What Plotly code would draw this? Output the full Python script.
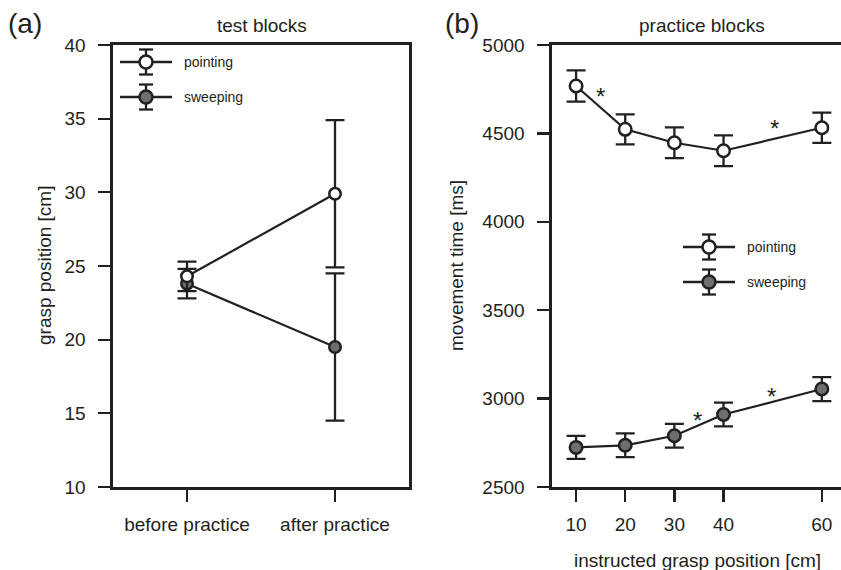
import plotly.graph_objects as go

# ---------------- data ----------------
# panel (a): test blocks
phase_labels = ["before practice", "after practice"]
phase_pos = [0, 1]
a_pointing = [24.3, 29.9]
a_pointing_err = [1.0, 5.0]
a_sweeping = [23.8, 19.5]
a_sweeping_err = [1.0, 5.0]

# panel (b): practice blocks
grasp_pos = [10, 20, 30, 40, 60]
b_pointing = [4768, 4523, 4447, 4402, 4532]
b_pointing_err = [88, 85, 87, 87, 86]
b_sweeping = [2724, 2736, 2790, 2910, 3054]
b_sweeping_err = [65, 67, 67, 67, 68]

# significance markers (x, y) in panel (b)
star_x = [14.9, 50.4, 34.7, 49.8]
star_y = [4734, 4548, 2896, 3037]

series_names = ["pointing", "sweeping"]

INK = "#231f20"
GREY = "#6e6e6e"
FONT = "Liberation Sans, Arial, sans-serif"
W, H = 841, 570

fig = go.Figure()


def add_series(x, y, err, fill, name, xa, ya, msize):
    fig.add_trace(go.Scatter(
        x=x, y=y, name=name, mode="lines+markers",
        xaxis=xa, yaxis=ya, showlegend=False, hoverinfo="skip",
        line=dict(color=INK, width=2.2),
        marker=dict(size=msize, color=fill, line=dict(color=INK, width=2.5)),
        error_y=dict(type="data", array=err, visible=True, color=INK,
                     thickness=2.3, width=9.5),
    ))


add_series(phase_pos, a_sweeping, a_sweeping_err, GREY, "sweeping", "x", "y", 11.5)
add_series(phase_pos, a_pointing, a_pointing_err, "white", "pointing", "x", "y", 11.5)
add_series(grasp_pos, b_pointing, b_pointing_err, "white", "pointing", "x2", "y2", 12.5)
add_series(grasp_pos, b_sweeping, b_sweeping_err, GREY, "sweeping", "x2", "y2", 12.5)

axis_common = dict(showline=True, linecolor=INK, linewidth=2.6, ticks="outside",
                   tickcolor=INK, tickwidth=2.3, ticklen=12, showgrid=False,
                   zeroline=False, automargin=False,
                   tickfont=dict(size=19, color=INK, family=FONT))

fig.update_layout(
    width=W, height=H,
    margin=dict(l=0, r=0, t=0, b=0, autoexpand=False),
    paper_bgcolor="white", plot_bgcolor="white",
    font=dict(family=FONT, color=INK),
    showlegend=False,
    xaxis=dict(axis_common, domain=[113 / W, 409 / W], range=[-0.5, 1.5],
               tickvals=phase_pos, ticktext=phase_labels, mirror=True, anchor="y",
               ticklabelstandoff=7),
    yaxis=dict(axis_common, domain=[1 - 487 / H, 1 - 45 / H], range=[10, 40],
               tickvals=[10, 15, 20, 25, 30, 35, 40], mirror=True, anchor="x",
               ticklabelstandoff=9),
    xaxis2=dict(axis_common, domain=[552 / W, 1.0], range=[5.1, 63.9],
                tickvals=grasp_pos, mirror=True, anchor="y2", ticklabelstandoff=7),
    yaxis2=dict(axis_common, domain=[1 - 487 / H, 1 - 45 / H], range=[2500, 5000],
                tickvals=[2500, 3000, 3500, 4000, 4500, 5000], anchor="x2",
                ticklabelstandoff=9),
)

for sx, sy in zip(star_x, star_y):
    fig.add_annotation(x=sx, y=sy, xref="x2", yref="y2", text="*", showarrow=False,
                       yshift=-4, font=dict(size=24, color=INK))


def px_text(x, y, text, size, angle=0, xanchor="center"):
    fig.add_annotation(x=x / W, y=1 - y / H, xref="paper", yref="paper", text=text,
                       showarrow=False, textangle=angle, xanchor=xanchor,
                       yanchor="middle", font=dict(size=size, color=INK, family=FONT))


# panel labels, titles, axis titles
px_text(24.5, 23, "(a)", 28)
px_text(461.5, 23, "(b)", 28)
px_text(262, 25, "test blocks", 19)
px_text(702, 25, "practice blocks", 19)
px_text(44, 266, "grasp position [cm]", 19, angle=-90)
px_text(456, 266, "movement time [ms]", 19, angle=-90)
px_text(697, 560, "instructed grasp position [cm]", 19)


# hand-drawn legends (icon: line, error bar, circle) in pixel positions
def px_line(x0, y0, x1, y1, w=2.3):
    fig.add_shape(type="line", xref="paper", yref="paper",
                  x0=x0 / W, y0=1 - y0 / H, x1=x1 / W, y1=1 - y1 / H,
                  line=dict(color=INK, width=w))


def legend_item(cx, cy, fill, label, half_len=26, bar=12.5, cap=7, r=6.5):
    px_line(cx - half_len, cy, cx + half_len, cy, 2.5)
    px_line(cx, cy - bar, cx, cy + bar)
    px_line(cx - cap, cy - bar, cx + cap, cy - bar)
    px_line(cx - cap, cy + bar, cx + cap, cy + bar)
    fig.add_shape(type="circle", xref="paper", yref="paper",
                  x0=(cx - r) / W, x1=(cx + r) / W, y0=1 - (cy + r) / H, y1=1 - (cy - r) / H,
                  fillcolor=fill, line=dict(color=INK, width=2.5))
    px_text(cx + 36, cy, label, 14, xanchor="left")


legend_fills = ["white", GREY]
for i, (nm, fl) in enumerate(zip(series_names, legend_fills)):
    legend_item(146, 62 + 35 * i, fl, nm)
    legend_item(709, 247 + 35 * i, fl, nm)

fig.write_html("out.html", config={"displayModeBar": False, "staticPlot": True},
               post_script="document.body.style.margin='0';document.body.style.overflow='hidden';")
